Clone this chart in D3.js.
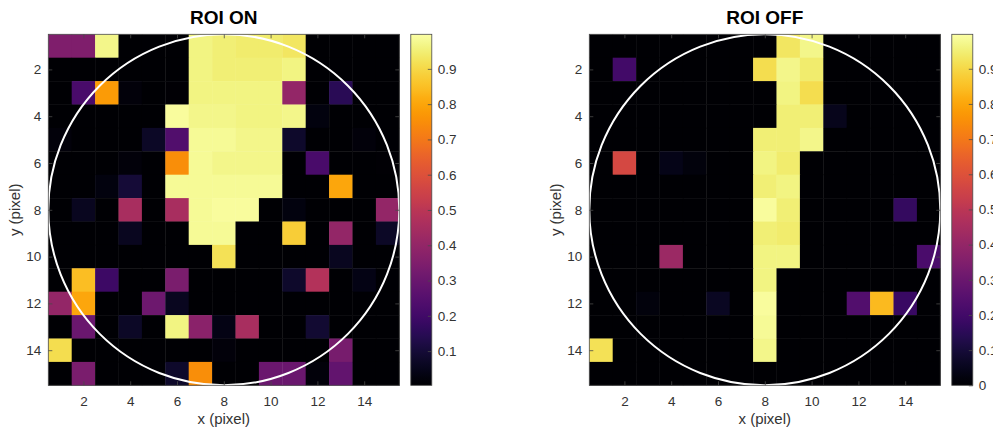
<!DOCTYPE html>
<html>
<head>
<meta charset="utf-8">
<script src="https://cdn.jsdelivr.net/npm/d3@7"></script>
<style>
  body { margin: 0; background: #fff; }
  svg { display: block; font-family: "Liberation Sans", Arial, sans-serif; }
</style>
</head>
<body>
<div id="chart"></div>
<script>
// pixel values, row 1 = top (y = 1), column 1 = left (x = 1)
const roiOn = [
  [0.35, 0.35, 0.97, 0, 0, 0, 0.96, 0.95, 0.94, 0.94, 0.93, 0, 0, 0, 0],
  [0, 0, 0, 0, 0, 0, 0.96, 0.95, 0.95, 0.95, 0.96, 0, 0, 0, 0],
  [0, 0.22, 0.78, 0.02, 0, 0.01, 0.96, 0.96, 0.96, 0.96, 0.40, 0, 0.15, 0, 0],
  [0, 0, 0, 0, 0, 0.99, 0.97, 0.97, 0.96, 0.96, 0.97, 0.03, 0, 0, 0],
  [0.02, 0, 0, 0, 0.07, 0.24, 0.98, 0.98, 0.97, 0.97, 0.08, 0, 0, 0.02, 0],
  [0, 0, 0, 0.02, 0, 0.75, 0.98, 0.97, 0.97, 0.97, 0, 0.22, 0, 0, 0.01],
  [0, 0, 0.03, 0.1, 0, 0.98, 0.98, 0.98, 0.98, 0.98, 0, 0, 0.8, 0, 0],
  [0, 0.06, 0, 0.45, 0, 0.45, 0.98, 0.99, 0.99, 0, 0.03, 0, 0, 0, 0.4],
  [0, 0, 0, 0.06, 0, 0, 0.98, 0.98, 0, 0, 0.88, 0, 0.4, 0, 0.07],
  [0, 0, 0, 0, 0, 0, 0, 0.92, 0, 0, 0, 0, 0.06, 0, 0],
  [0, 0.85, 0.19, 0, 0, 0.34, 0, 0, 0, 0, 0.08, 0.48, 0, 0.04, 0],
  [0.4, 0.8, 0, 0, 0.31, 0.06, 0, 0, 0, 0, 0, 0, 0, 0, 0],
  [0, 0.3, 0, 0.07, 0, 0.96, 0.38, 0.04, 0.45, 0, 0, 0.09, 0, 0, 0],
  [0.91, 0, 0, 0, 0, 0, 0, 0.02, 0, 0, 0, 0, 0.33, 0, 0],
  [0, 0.34, 0, 0, 0, 0.08, 0.75, 0, 0, 0.3, 0.3, 0.02, 0.28, 0, 0]
];

const roiOff = [
  [0, 0, 0, 0, 0, 0, 0, 0, 0.93, 0.97, 0, 0, 0, 0, 0],
  [0, 0.2, 0, 0, 0, 0, 0, 0.91, 0.97, 0.94, 0, 0, 0, 0, 0],
  [0, 0, 0, 0, 0, 0, 0, 0, 0.96, 0.91, 0, 0, 0, 0, 0],
  [0, 0, 0, 0, 0, 0, 0, 0, 0.95, 0.95, 0.05, 0, 0, 0, 0],
  [0, 0, 0, 0, 0, 0, 0, 0.95, 0.95, 0.97, 0, 0, 0, 0, 0],
  [0, 0.57, 0, 0.04, 0.02, 0, 0, 0.96, 0.94, 0, 0, 0, 0, 0, 0],
  [0, 0, 0, 0, 0, 0, 0, 0.95, 0.96, 0, 0, 0, 0, 0, 0],
  [0, 0, 0, 0, 0, 0, 0, 0.99, 0.95, 0, 0, 0, 0, 0.17, 0],
  [0, 0, 0, 0, 0, 0, 0, 0.95, 0.94, 0, 0, 0, 0, 0, 0],
  [0, 0, 0, 0.42, 0, 0, 0, 0.96, 0.96, 0, 0, 0, 0, 0, 0.22],
  [0, 0, 0, 0, 0, 0, 0, 0.96, 0, 0, 0, 0, 0, 0, 0],
  [0, 0, 0.02, 0, 0, 0.06, 0, 0.99, 0, 0, 0, 0.24, 0.84, 0.18, 0],
  [0, 0, 0, 0, 0, 0, 0, 0.98, 0, 0, 0, 0, 0, 0, 0],
  [0.92, 0, 0, 0, 0, 0, 0, 0.97, 0, 0, 0, 0, 0, 0, 0],
  [0, 0, 0, 0, 0, 0, 0, 0, 0, 0, 0, 0, 0, 0, 0]
];

const axisTicks = [2, 4, 6, 8, 10, 12, 14];
const onColorTicks = [0.1, 0.2, 0.3, 0.4, 0.5, 0.6, 0.7, 0.8, 0.9];
const offColorTicks = [0, 0.1, 0.2, 0.3, 0.4, 0.5, 0.6, 0.7, 0.8, 0.9];
const onRange = [0.003, 0.998];
const offRange = [0, 0.998];

const W = 993, H = 428;
const axisColor = "#4a4a4a";
const textColor = "#333";

const svg = d3.select("#chart").append("svg")
  .attr("width", W).attr("height", H)
  .style("overflow", "hidden");

const defs = svg.append("defs");

function build_panel(opt) {
  const { left, grid, range, colorTicks, title, id } = opt;
  const top = 34.3, size = 351;
  const right = left + size, bottom = top + size;

  const x = d3.scaleLinear().domain([0.5, 15.5]).range([left, right]);
  const y = d3.scaleLinear().domain([0.5, 15.5]).range([top, bottom]);
  const color = d3.scaleSequential(d3.interpolateInferno).domain(range).clamp(true);

  const g = svg.append("g");

  const cells = [];
  grid.forEach((row, r) => row.forEach((v, c) => cells.push({ col: c + 1, row: r + 1, v })));

  g.selectAll("rect.cell")
    .data(cells)
    .enter()
    .append("rect")
    .attr("class", "cell")
    .attr("x", (d) => x(d.col - 0.5))
    .attr("y", (d) => y(d.row - 0.5))
    .attr("width", x(1.5) - x(0.5) + 0.4)
    .attr("height", y(1.5) - y(0.5) + 0.4)
    .attr("fill", (d) => color(d.v));

  // circle roi
  g.append("circle")
    .attr("cx", x(8))
    .attr("cy", y(8))
    .attr("r", x(15.5) - x(8))
    .attr("fill", "none")
    .attr("stroke", "#fff")
    .attr("stroke-width", 2);

  const styleAxis = (a) => {
    a.select(".domain").remove();
    a.selectAll(".tick line").attr("stroke", axisColor).attr("stroke-width", 0.8);
    a.selectAll(".tick text").attr("fill", textColor).style("font-size", "13.5px");
  };

  g.append("g")
    .attr("transform", `translate(0,${bottom})`)
    .call(d3.axisBottom(x).tickValues(axisTicks).tickSizeInner(-4).tickSizeOuter(0).tickPadding(11))
    .call(styleAxis);
  g.append("g")
    .attr("transform", `translate(0,${top})`)
    .call(d3.axisTop(x).tickValues(axisTicks).tickSizeInner(-4).tickSizeOuter(0).tickFormat(""))
    .call(styleAxis);
  g.append("g")
    .attr("transform", `translate(${left},0)`)
    .call(d3.axisLeft(y).tickValues(axisTicks).tickSizeInner(-4).tickSizeOuter(0).tickPadding(7))
    .call(styleAxis);
  g.append("g")
    .attr("transform", `translate(${right},0)`)
    .call(d3.axisRight(y).tickValues(axisTicks).tickSizeInner(-4).tickSizeOuter(0).tickFormat(""))
    .call(styleAxis);

  g.append("rect")
    .attr("x", left).attr("y", top)
    .attr("width", size).attr("height", size)
    .attr("fill", "none")
    .attr("stroke", axisColor)
    .attr("stroke-width", 0.8);

  // labels
  g.append("text")
    .attr("x", (left + right) / 2)
    .attr("y", 24)
    .attr("text-anchor", "middle")
    .style("font-size", "19px")
    .style("font-weight", "bold")
    .attr("fill", "#000")
    .text(title);

  g.append("text")
    .attr("x", (left + right) / 2)
    .attr("y", 424)
    .attr("text-anchor", "middle")
    .style("font-size", "15px")
    .attr("fill", textColor)
    .text("x (pixel)");

  g.append("text")
    .attr("transform", `translate(${left - 28.5},${(top + bottom) / 2}) rotate(-90)`)
    .attr("text-anchor", "middle")
    .style("font-size", "15px")
    .attr("fill", textColor)
    .text("y (pixel)");

  // colorbar
  const cbLeft = right + 11.5, cbWidth = 21;
  const cy = d3.scaleLinear().domain(range).range([bottom, top]);

  const grad = defs.append("linearGradient")
    .attr("id", id)
    .attr("x1", 0).attr("y1", 1).attr("x2", 0).attr("y2", 0);
  d3.range(0, 1.0001, 0.02).forEach((t) => {
    grad.append("stop")
      .attr("offset", t)
      .attr("stop-color", color(range[0] + t * (range[1] - range[0])));
  });

  g.append("rect")
    .attr("x", cbLeft).attr("y", top)
    .attr("width", cbWidth).attr("height", size)
    .attr("fill", `url(#${id})`)
    .attr("stroke", axisColor)
    .attr("stroke-width", 0.8);

  g.append("g")
    .attr("transform", `translate(${cbLeft + cbWidth},0)`)
    .call(d3.axisRight(cy).tickValues(colorTicks).tickSizeInner(-4).tickSizeOuter(0).tickPadding(6)
      .tickFormat(d3.format("")))
    .call(styleAxis);
}

build_panel({ left: 48.3, grid: roiOn, range: onRange, colorTicks: onColorTicks, title: "ROI ON", id: "cb-on" });
build_panel({ left: 589.3, grid: roiOff, range: offRange, colorTicks: offColorTicks, title: "ROI OFF", id: "cb-off" });
</script>
</body>
</html>
